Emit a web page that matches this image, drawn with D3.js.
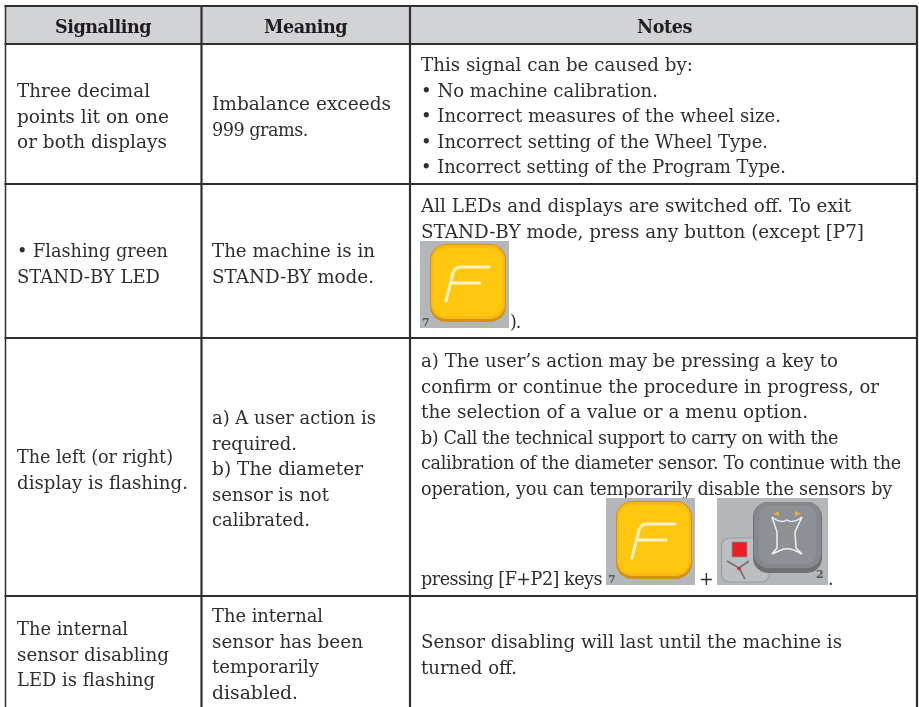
<!DOCTYPE html>
<html><head><meta charset="utf-8">
<script src="https://cdnjs.cloudflare.com/ajax/libs/d3/7.8.5/d3.min.js"></script>
<style>html,body{margin:0;padding:0;background:#fff}svg{display:block}
text{font-family:"DejaVu Serif",serif;font-size:17.6px;fill:#2e2e30}
.h{font-weight:700;font-size:17.6px;fill:#231f20}</style></head><body>
<svg id="c" width="919" height="707"><defs>
<filter id="soft" x="-5%" y="-5%" width="110%" height="110%"><feGaussianBlur stdDeviation="0.3"/></filter>
</defs></svg>
<script>
const headers = ["Signalling", "Meaning", "Notes"];
const signalling = [
  ["Three decimal","points lit on one","or both displays"],
  ["• Flashing green","STAND-BY LED"],
  ["The left (or right)","display is flashing."],
  ["The internal","sensor disabling","LED is flashing"]
];
const meaning = [
  ["Imbalance exceeds","999 grams."],
  ["The machine is in","STAND-BY mode."],
  ["a) A user action is","required.","b) The diameter","sensor is not","calibrated."],
  ["The internal","sensor has been","temporarily","disabled."]
];
const notes = [
  ["This signal can be caused by:","• No machine calibration.","• Incorrect measures of the wheel size.","• Incorrect setting of the Wheel Type.","• Incorrect setting of the Program Type."],
  ["All LEDs and displays are switched off. To exit","STAND-BY mode, press any button (except [P7]"],
  ["a) The user’s action may be pressing a key to","confirm or continue the procedure in progress, or","the selection of a value or a menu option.","b) Call the technical support to carry on with the","calibration of the diameter sensor. To continue with the","operation, you can temporarily disable the sensors by"],
  ["Sensor disabling will last until the machine is","turned off."]
];

// layout only
const lineEnds = [
  [[150,169,167],[168,160],[173,188],[128,169,155]],
  [[391,308],[375,374],[376,297,363,329,310],[323,363,319,298]],
  [[693,658,781,768,786],[851,864],[838,879,808,838,901,892],[842,517]]
];
const svg = d3.select("#c");
const W=919,H=707;
const xEdges=[5.5,201.5,410,917];
const yEdges=[6,44,184,338,596,707];
const colX=[17,212,421];
const lineStep=25.6;
const firstBase=[[97,110,71],[257,257,212],[463,424,367],[635,622,648]];
const ink="#2f2f31";

// fit a line to its measured width: tighten with letter spacing, widen with glyph scale
function fit(sel,width){
  const n=sel.node(), nat=n.getComputedTextLength();
  if(nat>width){ sel.style("letter-spacing",((width-nat)/n.getNumberOfChars())+"px"); }
  else { sel.attr("textLength",width).attr("lengthAdjust","spacingAndGlyphs"); }
  return sel;
}

svg.append("rect").attr("x",xEdges[0]).attr("y",yEdges[0]).attr("width",xEdges[3]-xEdges[0]).attr("height",yEdges[1]-yEdges[0]).attr("fill","#d1d3d4");
const gridH=yEdges.slice(0,5), gridV=xEdges;
svg.selectAll("line.h").data(gridH).join("line").attr("x1",xEdges[0]-1).attr("x2",W-2).attr("y1",d=>d).attr("y2",d=>d).attr("stroke",ink).attr("stroke-width",2.2);
svg.selectAll("line.v").data(gridV).join("line").attr("y1",yEdges[0]).attr("y2",H).attr("x1",d=>d).attr("x2",d=>d).attr("stroke",ink).attr("stroke-width",(d,i)=>(i==0?1.5:2.2));

const g=svg.append("g").attr("filter","url(#soft)");
const hx=[55,264,637], hEnds=[151,347,692];
headers.forEach((t,i)=>fit(g.append("text").attr("class","h").attr("x",hx[i]).attr("y",33).text(t),hEnds[i]-hx[i]));

[signalling,meaning,notes].forEach((col,c)=>{
  col.forEach((lines,r)=>{
    lines.forEach((t,i)=>{
      fit(g.append("text").attr("x",colX[c]).attr("y",firstBase[r][c]+i*lineStep).text(t),lineEnds[c][r][i]-colX[c]);
    });
  });
});
fit(g.append("text").attr("x",510).attr("y",328).text(")."),10);
fit(g.append("text").attr("x",421).attr("y",585).text("pressing [F+P2] keys"),181);
fit(g.append("text").attr("x",699).attr("y",585).text("+"),13);
g.append("text").attr("x",828).attr("y",585).text(".");

function fKey(x,y,num){
  const k=svg.append("g").attr("transform",`translate(${x},${y})`).attr("filter","url(#soft)");
  k.append("rect").attr("width",89).attr("height",87).attr("fill","#b4b7ba");
  k.append("rect").attr("x",10).attr("y",3).attr("width",76).attr("height",78).attr("rx",16).attr("fill","#d2930f");
  k.append("rect").attr("x",11).attr("y",4).attr("width",74).attr("height",74).attr("rx",15).attr("fill","#fbb818");
  k.append("rect").attr("x",13).attr("y",7).attr("width",70).attr("height",68).attr("rx",13).attr("fill","#ffc708");
  k.append("path").attr("d","M26 60 L33 32 Q35 26 41 26 L69 26 M32 42 L60 42").attr("fill","none").attr("stroke","#fff3cf").attr("stroke-width",3).attr("stroke-linecap","round");
  k.append("text").attr("x",2).attr("y",85).style("font-size","11px").style("font-weight","700").style("fill","#55585b").text(num);
}
fKey(420,241,"7");
fKey(606,498,"7");
const s=svg.append("g").attr("transform","translate(717,498)").attr("filter","url(#soft)");
s.append("rect").attr("width",111).attr("height",87).attr("fill","#b4b7ba");
s.append("rect").attr("x",4.5).attr("y",40).attr("width",48).attr("height",44).attr("rx",8).attr("fill","#bcbfc1").attr("stroke","#9a9da0").attr("stroke-width",1.2);
s.append("rect").attr("x",15).attr("y",44).attr("width",15).attr("height",15).attr("fill","#ee1c25").attr("stroke","#8e8f91").attr("stroke-width",.8);
s.append("path").attr("d","M10 63 L22 70 L32 63 M22 70 L28 81").attr("fill","none").attr("stroke","#6f7275").attr("stroke-width",1.6);
s.append("circle").attr("cx",22).attr("cy",70.5).attr("r",1.8).attr("fill","#ee1c25");
s.append("rect").attr("x",36).attr("y",4).attr("width",69).attr("height",71).attr("rx",15).attr("fill","#6d7175");
s.append("rect").attr("x",37).attr("y",4).attr("width",67).attr("height",66).attr("rx",14).attr("fill","#85898d");
s.append("rect").attr("x",42).attr("y",8).attr("width",57).attr("height",58).attr("rx",10).attr("fill","#8d9195");
s.append("path").attr("d","M55 19 Q64 26 70 22 Q76 26 85 19 L78 34 L79 50 L85 56 Q72 48 64 52 L55 56 M55 19 L60 34 L60 50 L55 56").attr("fill","none").attr("stroke","#eef0f0").attr("stroke-width",1.5);
s.append("path").attr("d","M56 16 L62 13 L62 18 Z M84 16 L78 13 L78 18 Z").attr("fill","#e9b13b");
s.append("text").attr("x",99).attr("y",80).style("font-size","11px").style("font-weight","700").style("fill","#55585b").text("2");
</script></body></html>
